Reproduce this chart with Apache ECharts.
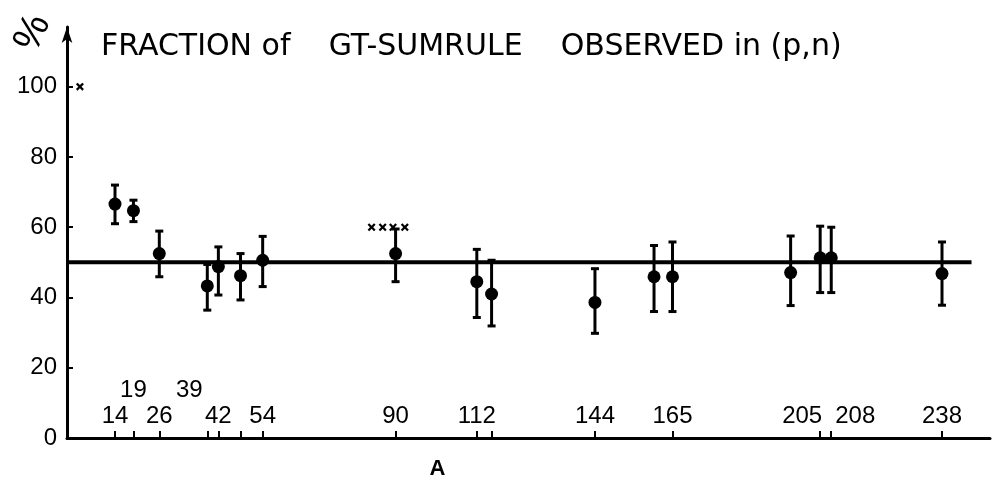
<!DOCTYPE html>
<html>
<head>
<meta charset="utf-8">
<script src="https://cdn.jsdelivr.net/npm/echarts@6/dist/echarts.min.js"></script>
<style>
  html, body { margin: 0; padding: 0; background: #fff; }
  #chart { width: 992px; height: 485px; }
</style>
</head>
<body>
<div id="chart"></div>
<script>
// Mass number A of each measured nucleus
const massNumber = [14, 19, 26, 39, 42, 48, 54, 90, 112, 116, 144, 160, 165, 197, 205, 208, 238];
// Observed fraction of the GT sum rule (%)
const fraction = [66.6, 64.7, 52.5, 43.3, 48.8, 46.2, 50.6, 52.5, 44.5, 41.0, 38.6, 45.9, 45.9, 47.1, 51.3, 51.3, 46.8];
// Lower and upper ends of the error bars (%)
const errLow  = [61.0, 61.6, 45.9, 36.4, 40.7, 39.3, 43.1, 44.5, 34.3, 31.9, 29.8, 36.0, 36.0, 37.7, 41.4, 41.4, 37.8];
const errHigh = [72.0, 67.7, 58.9, 49.4, 54.4, 52.5, 57.4, 59.5, 53.7, 50.6, 48.2, 54.8, 55.8, 57.5, 60.3, 60.0, 55.8];

// Cross marks (x) : mass number and value
const crossMass  = [4.5, 83.5, 86.5, 89.3, 92.5];
const crossValue = [100, 60, 60, 60, 60];

// Reference level of the plot (%)
const referenceLevel = 50;
const referenceSpan = [1, 246];

// Axis ticks and labels
const tickMass  = [14, 19, 26, 39, 42, 48, 54, 90, 112, 116, 144, 165, 205, 208, 238];
const labelMass = [14, 26, 42, 54, 90, 112, 144, 165, 205, 208, 238];
const upperRowMass = [19, 39];
const yTicks = [0, 20, 40, 60, 80, 100];

const INK = '#000';
const FONT = "'Liberation Sans', 'DejaVu Sans', sans-serif";
const TITLE_FONT = "'DejaVu Sans', 'Liberation Sans', sans-serif";

const points = massNumber.map((a, i) => [a, fraction[i]]);
const bars = massNumber.map((a, i) => [a, errLow[i], errHigh[i]]);
const crosses = crossMass.map((a, i) => [a, crossValue[i]]);

// Labels that sit beside their tick instead of centred on it
function tickLabel(v) {
  if (v === 205) return '{l|205}';
  if (v === 208) return '{r|208}';
  if (v === 39) return '{l|39}';
  return String(v);
}

const labelStyle = { fontSize: 24, lineHeight: 26, fontFamily: FONT, color: INK };
const richShift = {
  l: Object.assign({ padding: [0, 36, 0, 0] }, labelStyle),
  r: Object.assign({ padding: [0, 0, 0, 48] }, labelStyle)
};
const massRange = { type: 'value', min: 1, max: 251, splitLine: { show: false } };

const chart = echarts.init(document.getElementById('chart'), null, { renderer: 'canvas' });

chart.setOption({
  backgroundColor: '#fff',
  animation: false,
  title: {
    text: 'FRACTION of    GT-SUMRULE    OBSERVED in (p,n)',
    left: 96,
    top: 27,
    textStyle: { fontSize: 30, fontWeight: 'normal', fontFamily: TITLE_FONT, color: INK }
  },
  graphic: [{
    type: 'text',
    x: 33,
    y: 33,
    rotation: 65 * Math.PI / 180,
    style: { text: '%', fontSize: 40, fontFamily: FONT, fill: INK, align: 'center', verticalAlign: 'middle' }
  }],
  grid: { left: 67, right: 2, top: 27, bottom: 44 },
  xAxis: [
    Object.assign({}, massRange, {
      position: 'bottom',
      name: 'A',
      nameLocation: 'middle',
      nameGap: 20,
      nameTextStyle: { fontSize: 22, fontWeight: 'bold', fontFamily: FONT, color: INK, padding: [0, 182, 0, 0] },
      axisLine: { show: true, lineStyle: { color: INK, width: 3 } },
      axisTick: { show: true, customValues: tickMass, inside: true, length: 7, lineStyle: { color: INK, width: 2 } },
      axisLabel: Object.assign({
        show: true,
        customValues: labelMass,
        showMinLabel: true,
        showMaxLabel: true,
        hideOverlap: false,
        inside: true,
        margin: 9,
        formatter: tickLabel,
        rich: richShift
      }, labelStyle)
    }),
    // second row of mass-number labels, above the first
    Object.assign({}, massRange, {
      position: 'bottom',
      offset: 0,
      axisLine: { show: false },
      axisTick: { show: false },
      axisLabel: Object.assign({
        show: true,
        customValues: upperRowMass,
        showMinLabel: true,
        showMaxLabel: true,
        hideOverlap: false,
        inside: true,
        margin: 35,
        formatter: tickLabel,
        rich: richShift
      }, labelStyle)
    })
  ],
  yAxis: {
    type: 'value',
    min: 0,
    max: 117,
    axisLine: { show: true, symbol: ['none', 'arrow'], symbolSize: [8, 16], lineStyle: { color: INK, width: 3 } },
    axisTick: { show: true, customValues: yTicks, inside: true, length: 6, lineStyle: { color: INK, width: 2 } },
    axisLabel: { show: true, customValues: yTicks, margin: 10, fontSize: 24, fontFamily: FONT, color: INK },
    splitLine: { show: false }
  },
  series: [
    {
      name: 'reference',
      type: 'line',
      data: referenceSpan.map(a => [a, referenceLevel]),
      symbol: 'none',
      silent: true,
      lineStyle: { color: INK, width: 4 },
      z: 1
    },
    {
      name: 'error',
      type: 'custom',
      data: bars,
      encode: { x: 0, y: [1, 2] },
      silent: true,
      z: 2,
      renderItem: (params, api) => {
        const a = api.value(0);
        const lo = api.coord([a, api.value(1)]);
        const hi = api.coord([a, api.value(2)]);
        const cap = 4;
        const style = { stroke: INK, lineWidth: 3 };
        return {
          type: 'group',
          children: [
            { type: 'line', shape: { x1: lo[0], y1: lo[1], x2: hi[0], y2: hi[1] }, style },
            { type: 'line', shape: { x1: hi[0] - cap, y1: hi[1], x2: hi[0] + cap, y2: hi[1] }, style },
            { type: 'line', shape: { x1: lo[0] - cap, y1: lo[1], x2: lo[0] + cap, y2: lo[1] }, style }
          ]
        };
      }
    },
    {
      name: 'fraction',
      type: 'scatter',
      data: points,
      symbol: 'circle',
      symbolSize: 13,
      itemStyle: { color: INK, opacity: 1 },
      z: 3
    },
    {
      name: 'cross',
      type: 'scatter',
      data: crosses,
      symbol: 'path://M0,2 L2,0 L5,3 L8,0 L10,2 L7,5 L10,8 L8,10 L5,7 L2,10 L0,8 L3,5 Z',
      symbolSize: 8,
      itemStyle: { color: INK, opacity: 1 },
      z: 3
    }
  ]
});
</script>
</body>
</html>
